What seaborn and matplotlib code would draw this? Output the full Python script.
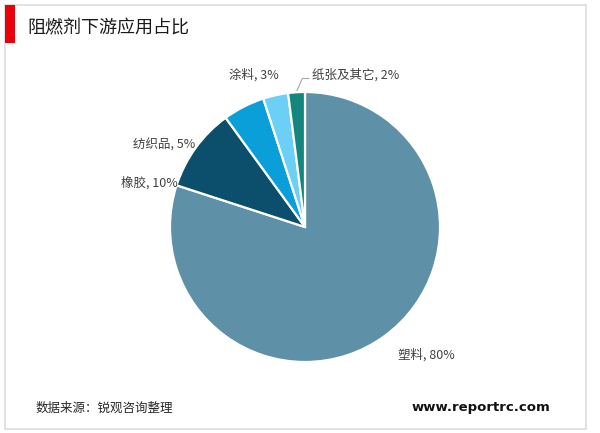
import matplotlib
matplotlib.use("Agg")
import matplotlib.pyplot as plt
import seaborn as sns
from matplotlib.patches import Rectangle
from matplotlib.lines import Line2D

# Downstream application share of flame retardants
categories = ["塑料", "橡胶", "纺织品", "涂料", "纸张及其它"]
shares = [80, 10, 5, 3, 2]
colors = ["#5E91A8", "#0B4F6C", "#0A9FD9", "#6BCFF6", "#13867E"]

title = "阻燃剂下游应用占比"
source = "数据来源：锐观咨询整理"
site = "www.reportrc.com"

sns.set_theme(style="white")
plt.rcParams["font.family"] = ["Noto Sans CJK SC", "DejaVu Sans"]

W, H = 600, 433
fig = plt.figure(figsize=(W / 100, H / 100), dpi=100)
fig.patch.set_facecolor("white")

# outer light frame and red title marker
fig.add_artist(Rectangle((5 / W, 1 - 429 / H), 581 / W, 424 / H, transform=fig.transFigure,
                         fill=False, edgecolor="#DCDCDC", linewidth=1.2))
fig.add_artist(Rectangle((5 / W, 1 - 43 / H), 10 / W, 38 / H, transform=fig.transFigure,
                         facecolor="#E8000B", edgecolor="none"))
fig.text(27 / W, 1 - 28 / H, title, fontsize=13, color="#1A1A1A", va="center", ha="left")

# pie axes: centre (305, 227), radius 135 px
cx, cy, r = 305, 227, 135
ax = fig.add_axes([(cx - r) / W, 1 - (cy + r) / H, 2 * r / W, 2 * r / H])
ax.pie(shares, colors=colors, startangle=90, counterclock=False,
       wedgeprops=dict(edgecolor="white", linewidth=1.6))
ax.set_xlim(-1, 1)
ax.set_ylim(-1, 1)
ax.set_aspect("equal")
ax.axis("off")

lab_kw = dict(fontsize=9, color="#404040", va="center", clip_on=False)
label_pos = [
    (0.90, -0.95, "center"),
    (-0.94, 0.326, "right"),
    (-0.815, 0.607, "right"),
    (-0.378, 1.126, "center"),
    (0.05, 1.126, "left"),
]
for (x, y, ha), name, v in zip(label_pos, categories, shares):
    ax.text(x, y, f"{name}, {v}%", ha=ha, **lab_kw)

# leader line for the smallest slice
ax.add_line(Line2D([-0.06, -0.02, 0.03], [1.01, 1.10, 1.10], color="#A6A6A6",
                   linewidth=0.8, clip_on=False))

fig.text(36 / W, 1 - 408 / H, source, fontsize=9, color="#262626", va="center", ha="left")
fig.text(550 / W, 1 - 408 / H, site, fontsize=9.5, color="#111111", va="center", ha="right",
         fontweight="bold", family=["DejaVu Sans"])

fig.savefig("out.png", dpi=100, facecolor="white")
